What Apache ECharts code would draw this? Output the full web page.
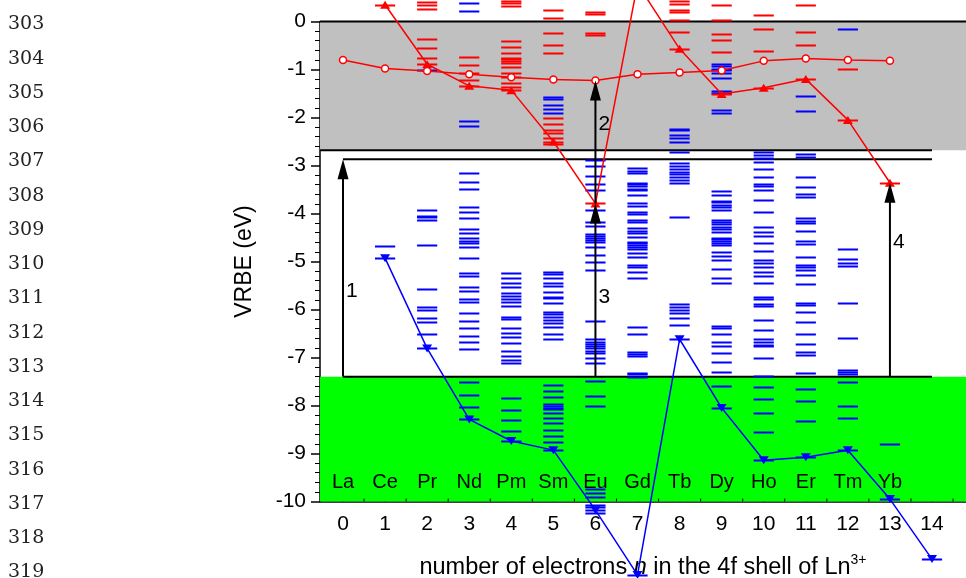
<!DOCTYPE html>
<html><head><meta charset="utf-8">
<script src="https://cdn.jsdelivr.net/npm/echarts@6/dist/echarts.min.js"></script>
<style>html,body{margin:0;padding:0;background:#fff;}#c{width:966px;height:578px;}</style>
</head><body><div id="c"></div>
<script>
// ---------- data ----------
const elements = ['La','Ce','Pr','Nd','Pm','Sm','Eu','Gd','Tb','Dy','Ho','Er','Tm','Yb'];
const nTicks = [0,1,2,3,4,5,6,7,8,9,10,11,12,13,14];
const lineNumbers = [303,304,305,306,307,308,309,310,311,312,313,314,315,316,317,318,319];
// open circles (n = 0..13)
const circleVRBE = [-0.80,-0.98,-1.03,-1.10,-1.16,-1.21,-1.23,-1.10,-1.06,-1.02,-0.82,-0.77,-0.80,-0.82];
// red up-triangles, Ln2+ ground state (n = 1..13)
const redGround = [0.35,-0.89,-1.34,-1.43,-2.50,-3.79,0.78,-0.57,-1.51,-1.38,-1.20,-2.05,-3.36];
// blue down-triangles, Ln3+ ground state (n = 1..14)
const blueGround = [-4.93,-6.81,-8.29,-8.74,-8.93,-10.18,-11.53,-6.62,-8.05,-9.14,-9.08,-8.93,-9.95,-11.20];
// red excited 4f levels per n (0..14)
const redLevels = [
  [],
  [],
  [0.41,0.34,0.27,-0.36,-0.56,-0.75],
  [-0.73,-0.91,-1.08,-1.22],
  [0.43,0.38,0.32,-0.40,-0.54,-0.65,-0.75,-0.79,-0.83,-0.87,-0.94,-1.07,-1.16,-1.29,-1.37],
  [0.25,0.07,-0.23,-0.48,-0.66,-2.01,-2.14,-2.25,-2.33,-2.43,-2.55],
  [0.20,0.16,-0.23,-0.28],
  [],
  [0.43,0.36,0.24,0.20,0.03,-0.21],
  [0.34,0.03,-0.27,-0.39,-0.64],
  [0.14,-0.16,-0.61],
  [0.34,-0.21,-0.48],
  [-0.98],
  [],
  []
];
// blue excited 4f levels per n (0..14)
const blueLevels = [
  [],
  [-4.68],
  [-1.01,-3.93,-4.05,-4.08,-4.14,-4.66,-5.57,-5.94,-6.02,-6.18,-6.26,-6.52],
  [0.38,0.22,-2.07,-2.18,-3.16,-3.34,-3.48,-3.87,-3.96,-4.10,-4.32,-4.41,-4.52,-4.57,-4.62,-4.69,-4.93,-5.23,-5.30,-5.54,-5.61,-5.78,-5.84,-6.08,-6.24,-6.39,-6.55,-6.68,-6.82,-7.51,-7.78,-8.03],
  [-5.23,-5.35,-5.44,-5.54,-5.65,-5.71,-5.78,-5.85,-5.93,-6.15,-6.19,-6.39,-6.48,-6.57,-6.70,-6.86,-6.97,-7.05,-7.12,-7.85,-8.09,-8.30,-8.53],
  [-1.57,-1.62,-1.74,-1.83,-1.91,-5.21,-5.26,-5.35,-5.44,-5.52,-5.63,-5.73,-5.77,-5.87,-6.05,-6.09,-6.15,-6.22,-6.29,-6.36,-6.51,-6.62,-7.57,-7.69,-7.82,-7.96,-8.01,-8.05,-8.08,-8.15,-8.27,-8.37,-8.50,-8.64,-8.77],
  [-2.89,-3.02,-3.21,-3.39,-3.51,-3.93,-4.17,-4.27,-4.43,-4.46,-4.52,-4.56,-4.59,-4.70,-4.86,-5.00,-5.18,-6.23,-6.62,-6.67,-6.71,-6.75,-6.80,-6.86,-6.91,-7.00,-7.12,-7.49,-7.80,-8.01,-9.73,-9.82,-9.90,-10.07,-10.12,-10.23],
  [-3.06,-3.11,-3.15,-3.36,-3.39,-3.43,-3.48,-3.51,-3.61,-3.79,-3.84,-3.96,-4.00,-4.14,-4.17,-4.31,-4.36,-4.41,-4.48,-4.59,-4.62,-4.66,-4.69,-4.73,-4.83,-4.91,-5.07,-5.12,-5.21,-5.34,-6.37,-6.52,-6.89,-6.93,-6.97,-7.32,-7.35,-7.40],
  [-2.23,-2.27,-2.36,-2.43,-2.52,-2.71,-2.95,-3.00,-3.08,-3.13,-3.18,-3.23,-3.30,-3.36,-4.07,-5.89,-5.94,-6.00,-6.08,-6.18,-6.32],
  [-0.89,-0.93,-0.98,-1.02,-1.07,-1.18,-1.44,-1.48,-1.84,-1.91,-3.53,-3.61,-3.73,-3.77,-3.82,-3.87,-3.93,-4.14,-4.17,-4.22,-4.29,-4.33,-4.38,-4.50,-4.54,-4.57,-4.62,-4.66,-4.80,-4.89,-4.96,-5.16,-5.34,-5.44,-6.34,-6.39,-6.50,-6.67,-6.77,-6.90,-7.09,-7.30,-7.59],
  [-2.71,-2.78,-2.85,-2.92,-3.08,-3.23,-3.39,-3.43,-3.51,-3.71,-3.96,-4.29,-4.38,-4.47,-4.61,-4.78,-4.97,-5.04,-5.11,-5.21,-5.30,-5.44,-5.73,-5.79,-5.89,-5.93,-6.21,-6.43,-6.62,-6.67,-6.74,-6.77,-7.02,-7.39,-7.62,-7.87,-8.15,-8.55],
  [-1.55,-1.86,-2.76,-2.82,-3.23,-3.45,-3.59,-3.65,-4.10,-4.15,-4.20,-4.36,-4.57,-4.64,-4.91,-5.07,-5.12,-5.18,-5.28,-5.46,-5.86,-5.91,-6.05,-6.27,-6.50,-6.71,-6.88,-6.95,-7.32,-7.66,-7.90,-8.32],
  [-0.16,-4.74,-4.94,-5.03,-5.09,-5.87,-6.59,-7.26,-7.30,-7.35,-7.52,-8.01,-8.27],
  [-8.80],
  []
];
// energy bands (VRBE, eV)
const cbBand = [0, -2.68];
const excitonLevel = -2.87;
const vbBand = [-7.40, -10];
// arrows: n, from VRBE, to VRBE
const arrowN = [0, 6, 6, 13];
const arrowFrom = [-7.40, -3.79, -7.40, -7.40];
const arrowTo = [-2.87, -1.23, -3.79, -3.36];
const arrowText = ['1','2','3','4'];
const arrowTextY = [-5.59, -2.12, -5.73, -4.57];

// ---------- layout / style constants ----------
const XMIN = -0.547, XMAX = 14.808;
const FONT = 'Liberation Sans, Arial, sans-serif';
const DASH_HALF = 0.24;

const chart = echarts.init(document.getElementById('c'), null, {renderer:'canvas'});

const circleData = circleVRBE.map((v,i)=>[i,v]);
const redTriData = redGround.map((v,i)=>[i+1,v]);
const blueTriData = blueGround.map((v,i)=>[i+1,v]);
const redDash = [];
redLevels.forEach((arr,n)=>arr.forEach(v=>redDash.push([n,v])));
redGround.forEach((v,i)=>redDash.push([i+1,v]));
const blueDash = [];
blueLevels.forEach((arr,n)=>arr.forEach(v=>blueDash.push([n,v])));
blueGround.forEach((v,i)=>blueDash.push([i+1,v]));

const bandData = [[cbBand[0], cbBand[1], 0], [vbBand[0], vbBand[1], 1]];
const bandColors = ['#c0c0c0', '#00ff00'];
const hLines = [[XMIN, XMAX, cbBand[0]], [XMIN, 14, cbBand[1]], [0, 14, excitonLevel], [0, 14, vbBand[0]]];

function dashSeries(data, color){
  return {
    type:'custom', data, clip:false, z:3, silent:true,
    encode:{x:0,y:1},
    renderItem(params, api){
      const x = api.value(0), y = api.value(1);
      const p1 = api.coord([x-DASH_HALF, y]);
      const p2 = api.coord([x+DASH_HALF, y]);
      return {type:'line', shape:{x1:p1[0],y1:Math.round(p1[1])+0.5,x2:p2[0],y2:Math.round(p2[1])+0.5},
        style:{stroke:color, lineWidth:2}};
    }
  };
}

const option = {
  animation:false,
  backgroundColor:'#fff',
  grid:{left:320, top:21.5, width:646, height:480, containLabel:false, outerBoundsMode:'none'},
  xAxis:{
    type:'value', min:XMIN, max:XMAX, splitLine:{show:false},
    position:'bottom',
    axisLine:{show:true, onZero:false, lineStyle:{color:'#000', width:1.5}},
    axisTick:{show:true, inside:true, length:10, customValues:nTicks, lineStyle:{color:'#000', width:1.5}},
    axisLabel:{show:true, customValues:nTicks, margin:12, color:'#000', fontSize:21, fontFamily:FONT},
    name:'{a|number of electrons }{i|n}{a| in the 4f shell of Ln}{s|3+}',
    nameLocation:'middle', nameGap:52,
    nameTextStyle:{fontFamily:FONT, color:'#000',
      rich:{a:{fontSize:23.5, fontFamily:FONT, color:'#000', lineHeight:28},
            i:{fontSize:23.5, fontFamily:FONT, fontStyle:'italic', color:'#000', lineHeight:28},
            s:{fontSize:14, fontFamily:FONT, color:'#000', verticalAlign:'top', lineHeight:28, padding:[0,0,12,0]}}}
  },
  yAxis:{
    type:'value', min:-10, max:0, interval:1,
    axisLine:{show:true, onZero:false, lineStyle:{color:'#000', width:1.5}},
    axisTick:{show:true, inside:false, length:9, lineStyle:{color:'#000', width:1.5}},
    minorTick:{show:true, splitNumber:5, length:5, lineStyle:{color:'#000', width:1}},
    axisLabel:{margin:14, color:'#000', fontSize:21, fontFamily:FONT},
    splitLine:{show:false},
    name:'VRBE (eV)', nameLocation:'middle', nameGap:64,
    nameTextStyle:{fontSize:23, fontFamily:FONT, color:'#000'}
  },
  graphic: lineNumbers.map((num,i)=>({
    type:'text', left:8, top:22 + i*34.25 - 7,
    style:{text:String(num), fontFamily:'DejaVu Serif, serif', fontSize:19, fill:'#222'}
  })),
  series:[
    {
      type:'custom', data:bandData, clip:false, z:1, silent:true,
      renderItem(params, api){
        const y0 = api.value(0), y1 = api.value(1), ci = api.value(2);
        const p0 = api.coord([XMIN, y0]), p1 = api.coord([XMAX, y1]);
        return {type:'rect', shape:{x:p0[0], y:p0[1], width:p1[0]-p0[0], height:p1[1]-p0[1]},
          style:{fill:bandColors[ci]}};
      }
    },
    {
      type:'custom', data:hLines, clip:false, z:2, silent:true,
      renderItem(params, api){
        const a = api.coord([api.value(0), api.value(2)]), b = api.coord([api.value(1), api.value(2)]);
        return {type:'line', shape:{x1:a[0],y1:a[1],x2:b[0],y2:b[1]}, style:{stroke:'#000', lineWidth:2}};
      }
    },
    {
      // element symbols inside the plot above each integer tick, plus half-step minor ticks
      type:'custom', data:nTicks.map(n=>[n]), clip:false, z:4, silent:true,
      renderItem(params, api){
        const n = api.value(0);
        const p = api.coord([n, -10]);
        const pm = api.coord([n+0.5, -10]);
        const children = [
          {type:'line', shape:{x1:pm[0], y1:pm[1], x2:pm[0], y2:pm[1]-3}, style:{stroke:'#000', lineWidth:1}}
        ];
        if (n < elements.length) {
          children.push({type:'text', style:{text:elements[n], x:p[0], y:p[1]-19.5, fontSize:20, fontFamily:FONT,
            fill:'#000', align:'center', verticalAlign:'middle'}});
        }
        return {type:'group', children};
      }
    },
    dashSeries(blueDash, '#0000ff'),
    dashSeries(redDash, '#ff0000'),
    {
      type:'custom', data:arrowN.map((n,i)=>[n, arrowFrom[i], arrowTo[i], arrowTextY[i]]), clip:false, z:6, silent:true,
      renderItem(params, api){
        const x = api.value(0);
        const pb = api.coord([x, api.value(1)]), pt = api.coord([x, api.value(2)]);
        const pl = api.coord([x, api.value(3)]);
        const headH = 20, headW = 5.5;
        return {type:'group', children:[
          {type:'line', shape:{x1:pb[0],y1:pb[1],x2:pt[0],y2:pt[1]+headH-3}, style:{stroke:'#000', lineWidth:2}},
          {type:'polygon', shape:{points:[[pt[0],pt[1]],[pt[0]-headW,pt[1]+headH],[pt[0]+headW,pt[1]+headH]]}, style:{fill:'#000'}},
          {type:'text', style:{text:arrowText[params.dataIndex], x:pl[0]+3, y:pl[1]+1, fontSize:21, fontFamily:FONT,
            fill:'#000', verticalAlign:'middle', align:'left'}}
        ]};
      }
    },
    {
      type:'line', data:blueTriData, clip:false, z:5, silent:true,
      symbol:'triangle', symbolSize:[10,8], symbolRotate:180, showAllSymbol:true,
      lineStyle:{color:'#0000ff', width:1.5}, itemStyle:{color:'#0000ff'}
    },
    {
      type:'line', data:redTriData, clip:false, z:5, silent:true,
      symbol:'triangle', symbolSize:[10,8], showAllSymbol:true,
      lineStyle:{color:'#ff0000', width:1.5}, itemStyle:{color:'#ff0000'}
    },
    {
      type:'line', data:circleData, clip:false, z:5, silent:true,
      symbol:'circle', symbolSize:7, showAllSymbol:true,
      lineStyle:{color:'#ff0000', width:1.5}, itemStyle:{color:'#ffffff', borderColor:'#ff0000', borderWidth:1.5}
    }
  ]
};
chart.setOption(option);
</script></body></html>
